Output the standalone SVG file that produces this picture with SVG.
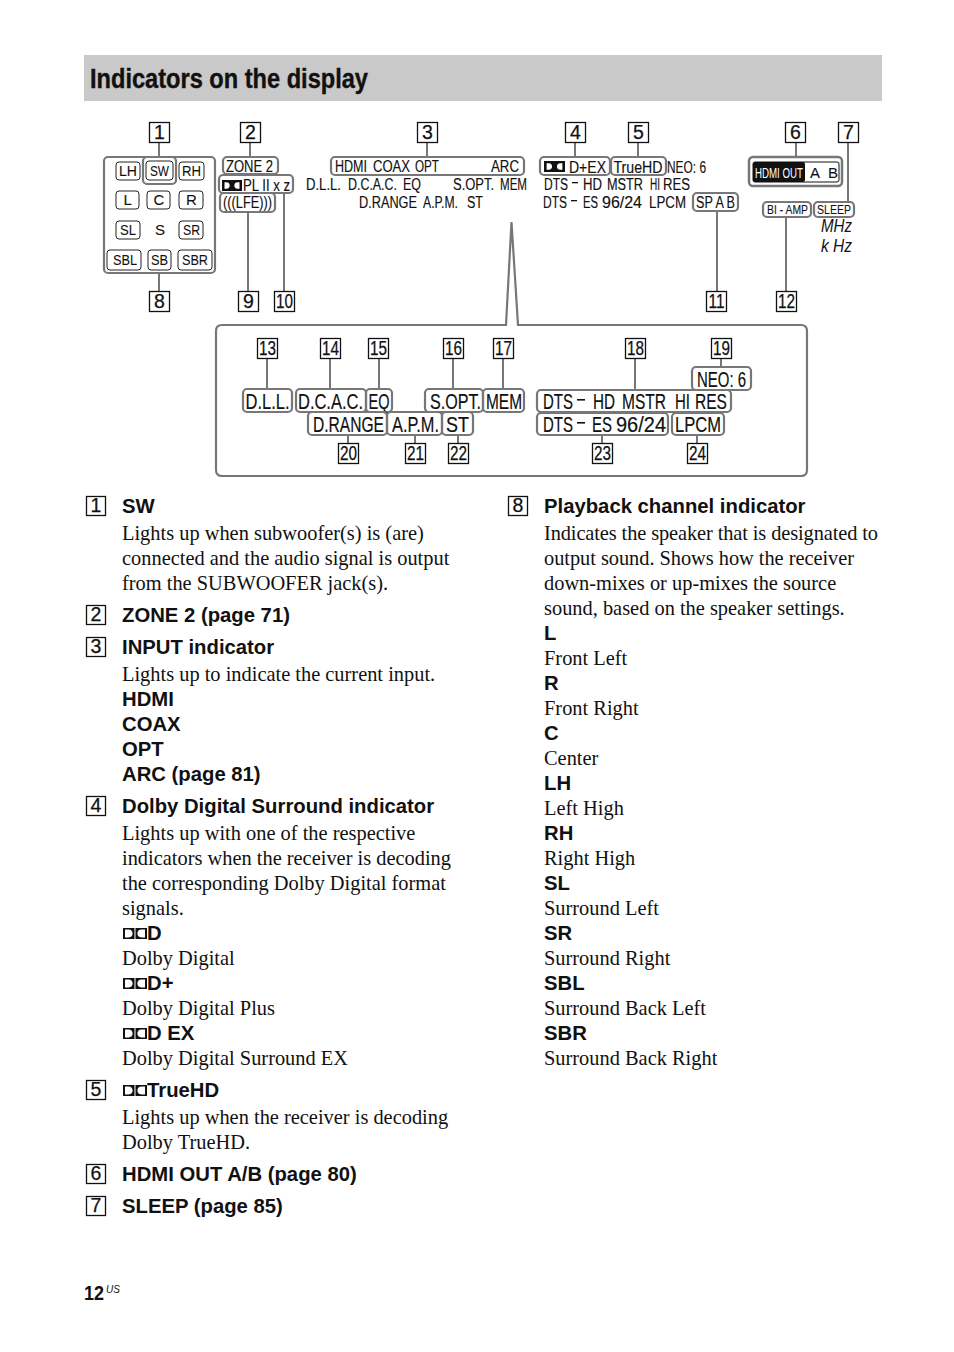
<svg xmlns="http://www.w3.org/2000/svg" xmlns:xlink="http://www.w3.org/1999/xlink" width="954" height="1352" viewBox="0 0 954 1352">
<style>
text{font-family:"Liberation Sans",Arial,sans-serif;fill:#111}
.t{font-size:28.5px;font-weight:700;stroke:#111;stroke-width:.4}
.b{font-size:20.3px;font-weight:700}
.s{font-family:"Liberation Serif","Times New Roman",serif;font-size:20.4px}
.n{font-size:19.5px;text-anchor:middle;stroke:#111;stroke-width:.25}
.d{font-size:16px;stroke:#111;stroke-width:.15}
.m{font-size:15px;stroke:#111;stroke-width:.1}
.c{font-size:13px;stroke:#111;stroke-width:.1}
.l{font-size:21.5px;stroke:#111;stroke-width:.2}
.i{font-size:18px;font-style:italic}
.box{fill:#fff;stroke:#111;stroke-width:1.3}
.g{fill:none;stroke:#777;stroke-width:2.2}
.k{fill:none;stroke:#222;stroke-width:1}
.w{fill:none;stroke:#777;stroke-width:2.2}
.cn{fill:none;stroke:#777;stroke-width:2}
</style>
<defs>
<symbol id="dd" viewBox="0 0 24 11" preserveAspectRatio="none">
<path fill="#111" fill-rule="evenodd" d="M0 0H12V11H0ZM3 2.2V8.8H5.5C8 8.8 9.2 7.4 9.2 5.5S8 2.2 5.5 2.2ZM12 0H24V11H12ZM21 2.2V8.8H18.5C16 8.8 14.8 7.4 14.8 5.5S16 2.2 18.5 2.2Z"/>
</symbol>
<symbol id="dl" viewBox="0 0 24 11" preserveAspectRatio="none">
<path fill="#111" fill-rule="evenodd" d="M0 0H11.500V11H0ZM2 1.600V9.400H5.500C8.400 9.400 9.600 7.600 9.600 5.500S8.400 1.600 5.500 1.600ZM12.500 0H24V11H12.500ZM22 1.600V9.400H18.500C15.600 9.400 14.400 7.600 14.400 5.500S15.600 1.600 18.500 1.600Z"/>
</symbol>
</defs>
<rect width="954" height="1352" fill="#fff"/>
<g id="title">
<rect x="84" y="55" width="798" height="46" fill="#c9c9c9"/>
<text class="t" x="90" y="88" textLength="278" lengthAdjust="spacingAndGlyphs">Indicators on the display</text>
</g>
<g id="connectors">
<path class="cn" d="M159 142V157M159 273V291M250 142V157M248 212V291M284 193V291M427 142V157M575 142V157M638 142V157M717 211V291M796 142V157M848 142V202M786 217V291M267 358V389M330 358V389M379 358V389M453 358V389M503 358V389M635 358V391M721 358V367M348 435V443M415 435V443M458 435V443M602 435V443M697 435V443"/>
</g>
<g id="callouts">
<g id="c1"><rect class="box" x="149.500" y="122.500" width="20" height="20"/><text class="n" x="159.500" y="139">1</text></g>
<g id="c2"><rect class="box" x="240.500" y="122.500" width="20" height="20"/><text class="n" x="250.500" y="139">2</text></g>
<g id="c3"><rect class="box" x="417.500" y="122.500" width="20" height="20"/><text class="n" x="427.500" y="139">3</text></g>
<g id="c4"><rect class="box" x="565.500" y="122.500" width="20" height="20"/><text class="n" x="575.500" y="139">4</text></g>
<g id="c5"><rect class="box" x="628.500" y="122.500" width="20" height="20"/><text class="n" x="638.500" y="139">5</text></g>
<g id="c6"><rect class="box" x="785.500" y="122.500" width="20" height="20"/><text class="n" x="795.500" y="139">6</text></g>
<g id="c7"><rect class="box" x="838.500" y="122.500" width="20" height="20"/><text class="n" x="848.500" y="139">7</text></g>
<g id="c8"><rect class="box" x="149.500" y="291.500" width="20" height="20"/><text class="n" x="159.500" y="308">8</text></g>
<g id="c9"><rect class="box" x="238.500" y="291.500" width="20" height="20"/><text class="n" x="248.500" y="308">9</text></g>
<g id="c10"><rect class="box" x="274.500" y="291.500" width="20" height="20"/><text class="n" x="284.500" y="308" textLength="17" lengthAdjust="spacingAndGlyphs">10</text></g>
<g id="c11"><rect class="box" x="706.500" y="291.500" width="20" height="20"/><text class="n" x="716.500" y="308" textLength="16" lengthAdjust="spacingAndGlyphs">11</text></g>
<g id="c12"><rect class="box" x="776.500" y="291.500" width="20" height="20"/><text class="n" x="786.500" y="308" textLength="17" lengthAdjust="spacingAndGlyphs">12</text></g>
<g id="c13"><rect class="box" x="257.500" y="338.500" width="20" height="20"/><text class="n" x="267.500" y="355" textLength="17" lengthAdjust="spacingAndGlyphs">13</text></g>
<g id="c14"><rect class="box" x="320.500" y="338.500" width="20" height="20"/><text class="n" x="330.500" y="355" textLength="17" lengthAdjust="spacingAndGlyphs">14</text></g>
<g id="c15"><rect class="box" x="368.500" y="338.500" width="20" height="20"/><text class="n" x="378.500" y="355" textLength="17" lengthAdjust="spacingAndGlyphs">15</text></g>
<g id="c16"><rect class="box" x="443.500" y="338.500" width="20" height="20"/><text class="n" x="453.500" y="355" textLength="17" lengthAdjust="spacingAndGlyphs">16</text></g>
<g id="c17"><rect class="box" x="493.500" y="338.500" width="20" height="20"/><text class="n" x="503.500" y="355" textLength="17" lengthAdjust="spacingAndGlyphs">17</text></g>
<g id="c18"><rect class="box" x="625.500" y="338.500" width="20" height="20"/><text class="n" x="635.500" y="355" textLength="17" lengthAdjust="spacingAndGlyphs">18</text></g>
<g id="c19"><rect class="box" x="711.500" y="338.500" width="20" height="20"/><text class="n" x="721.500" y="355" textLength="17" lengthAdjust="spacingAndGlyphs">19</text></g>
<g id="c20"><rect class="box" x="338.500" y="443.500" width="20" height="20"/><text class="n" x="348.500" y="460" textLength="17" lengthAdjust="spacingAndGlyphs">20</text></g>
<g id="c21"><rect class="box" x="405.500" y="443.500" width="20" height="20"/><text class="n" x="415.500" y="460" textLength="17" lengthAdjust="spacingAndGlyphs">21</text></g>
<g id="c22"><rect class="box" x="448.500" y="443.500" width="20" height="20"/><text class="n" x="458.500" y="460" textLength="17" lengthAdjust="spacingAndGlyphs">22</text></g>
<g id="c23"><rect class="box" x="592.500" y="443.500" width="20" height="20"/><text class="n" x="602.500" y="460" textLength="17" lengthAdjust="spacingAndGlyphs">23</text></g>
<g id="c24"><rect class="box" x="687.500" y="443.500" width="20" height="20"/><text class="n" x="697.500" y="460" textLength="17" lengthAdjust="spacingAndGlyphs">24</text></g>
</g>
<g id="channel-panel">
<rect class="g" x="104" y="157" width="111" height="116" rx="4"/>
<rect class="g" x="143" y="157" width="33" height="27" rx="4"/>
<rect class="k" x="116" y="162" width="24" height="18" rx="3"/><text class="m" x="119" y="176" textLength="18" lengthAdjust="spacingAndGlyphs">LH</text>
<rect class="k" x="146" y="161" width="27" height="19" rx="3"/><text class="m" x="150" y="176" textLength="19" lengthAdjust="spacingAndGlyphs">SW</text>
<rect class="k" x="179" y="162" width="25" height="18" rx="3"/><text class="m" x="182" y="176" textLength="19" lengthAdjust="spacingAndGlyphs">RH</text>
<rect class="k" x="116" y="191" width="23" height="18" rx="3"/><text class="m" x="123.500" y="205">L</text>
<rect class="k" x="147" y="191" width="23" height="18" rx="3"/><text class="m" x="153.500" y="205">C</text>
<rect class="k" x="179" y="191" width="24" height="18" rx="3"/><text class="m" x="186" y="205">R</text>
<rect class="k" x="116" y="221" width="24" height="18" rx="3"/><text class="m" x="120" y="235" textLength="16" lengthAdjust="spacingAndGlyphs">SL</text>
<text class="m" x="155" y="235">S</text>
<rect class="k" x="179" y="221" width="24" height="18" rx="3"/><text class="m" x="183" y="235" textLength="17" lengthAdjust="spacingAndGlyphs">SR</text>
<rect class="k" x="107" y="250" width="34" height="20" rx="3"/><text class="m" x="113" y="265" textLength="24" lengthAdjust="spacingAndGlyphs">SBL</text>
<rect class="k" x="148" y="250" width="23" height="20" rx="3"/><text class="m" x="151" y="265" textLength="17" lengthAdjust="spacingAndGlyphs">SB</text>
<rect class="k" x="178" y="250" width="34" height="20" rx="3"/><text class="m" x="182" y="265" textLength="26" lengthAdjust="spacingAndGlyphs">SBR</text>
</g>
<g id="zone-group">
<rect class="w" x="223" y="157" width="55" height="17" rx="4"/>
<text class="d" x="226" y="172" textLength="47" lengthAdjust="spacingAndGlyphs">ZONE 2</text>
<rect class="w" x="219" y="175" width="74" height="18" rx="4"/>
<use xlink:href="#dd" x="222" y="180" width="20" height="11"/>
<text class="d" x="243" y="191" textLength="47" lengthAdjust="spacingAndGlyphs">PL II x z</text>
<rect class="w" x="220" y="193" width="55" height="19" rx="4"/>
<text class="d" x="223" y="208" textLength="49" lengthAdjust="spacingAndGlyphs">(((LFE)))</text>
</g>
<g id="input-group">
<rect class="w" x="331" y="157" width="193" height="18" rx="4"/>
<text class="d" x="335" y="172" textLength="32" lengthAdjust="spacingAndGlyphs">HDMI</text>
<text class="d" x="373" y="172" textLength="37" lengthAdjust="spacingAndGlyphs">COAX</text>
<text class="d" x="415" y="172" textLength="24" lengthAdjust="spacingAndGlyphs">OPT</text>
<text class="d" x="491" y="172" textLength="28" lengthAdjust="spacingAndGlyphs">ARC</text>
<text class="d" x="306" y="190" textLength="35" lengthAdjust="spacingAndGlyphs">D.L.L.</text>
<text class="d" x="348" y="190" textLength="49" lengthAdjust="spacingAndGlyphs">D.C.A.C.</text>
<text class="d" x="403" y="190" textLength="18" lengthAdjust="spacingAndGlyphs">EQ</text>
<text class="d" x="453" y="190" textLength="41" lengthAdjust="spacingAndGlyphs">S.OPT.</text>
<text class="d" x="500" y="190" textLength="27" lengthAdjust="spacingAndGlyphs">MEM</text>
<text class="d" x="359" y="208" textLength="58" lengthAdjust="spacingAndGlyphs">D.RANGE</text>
<text class="d" x="423" y="208" textLength="35" lengthAdjust="spacingAndGlyphs">A.P.M.</text>
<text class="d" x="467" y="208" textLength="16" lengthAdjust="spacingAndGlyphs">ST</text>
</g>
<g id="format-group">
<rect class="w" x="540" y="157" width="70" height="18" rx="4"/>
<use xlink:href="#dd" x="544" y="161" width="21" height="11"/>
<text class="d" x="569" y="173" textLength="37" lengthAdjust="spacingAndGlyphs">D+EX</text>
<rect class="w" x="611" y="157" width="55" height="18" rx="4"/>
<text class="d" x="613.500" y="173" textLength="49" lengthAdjust="spacingAndGlyphs">TrueHD</text>
<text class="d" x="667" y="173" textLength="39" lengthAdjust="spacingAndGlyphs">NEO: 6</text>
<text class="d" x="544" y="190" textLength="24" lengthAdjust="spacingAndGlyphs">DTS</text>
<rect x="572" y="182" width="6" height="1.300" fill="#111"/>
<text class="d" x="583" y="190" textLength="19" lengthAdjust="spacingAndGlyphs">HD</text>
<text class="d" x="607" y="190" textLength="36" lengthAdjust="spacingAndGlyphs">MSTR</text>
<text class="d" x="650" y="190" textLength="10" lengthAdjust="spacingAndGlyphs">HI</text>
<text class="d" x="663" y="190" textLength="27" lengthAdjust="spacingAndGlyphs">RES</text>
<text class="d" x="543" y="208" textLength="24" lengthAdjust="spacingAndGlyphs">DTS</text>
<rect x="571" y="200" width="6" height="1.300" fill="#111"/>
<text class="d" x="583" y="208" textLength="15" lengthAdjust="spacingAndGlyphs">ES</text>
<text class="d" x="602" y="208" textLength="40" lengthAdjust="spacingAndGlyphs">96/24</text>
<text class="d" x="649" y="208" textLength="37" lengthAdjust="spacingAndGlyphs">LPCM</text>
<rect class="w" x="693" y="193" width="45" height="18" rx="4"/>
<text class="d" x="696" y="208" textLength="39" lengthAdjust="spacingAndGlyphs">SP A B</text>
</g>
<g id="hdmi-group">
<rect class="g" x="749" y="157" width="93" height="29" rx="4" style="stroke-width:2.500"/>
<rect x="753" y="162" width="86" height="20" rx="2" fill="#fff" stroke="#111"/>
<rect x="753" y="162" width="52" height="20" rx="2" fill="#111"/>
<text class="m" x="755" y="178" style="fill:#fff;stroke:none" textLength="48" lengthAdjust="spacingAndGlyphs">HDMI OUT</text>
<text class="m" x="810" y="178">A</text>
<text class="m" x="828" y="178">B</text>
</g>
<g id="sleep-group">
<rect class="w" x="763" y="202" width="48" height="15" rx="4"/>
<text class="c" x="767" y="214" textLength="41" lengthAdjust="spacingAndGlyphs">BI - AMP</text>
<rect class="w" x="814" y="202" width="40" height="15" rx="4"/>
<text class="c" x="817" y="214" textLength="34" lengthAdjust="spacingAndGlyphs">SLEEP</text>
<text class="i" x="821" y="232" textLength="31" lengthAdjust="spacingAndGlyphs">MHz</text>
<text class="i" x="821" y="252" textLength="31" lengthAdjust="spacingAndGlyphs">k Hz</text>
</g>
<g id="zoom-panel">
<path class="w" d="M506 325L511.500 222L518 325H801Q807 325 807 331V470Q807 476 801 476H222Q216 476 216 470V331Q216 325 222 325Z"/>
<rect class="w" x="243" y="389" width="49" height="23" rx="4"/><text class="l" x="245.500" y="409" textLength="44" lengthAdjust="spacingAndGlyphs">D.L.L.</text>
<rect class="w" x="296" y="389" width="70" height="23" rx="4"/><text class="l" x="298" y="409" textLength="65" lengthAdjust="spacingAndGlyphs">D.C.A.C.</text>
<rect class="w" x="366" y="389" width="26" height="23" rx="4"/><text class="l" x="368.500" y="409" textLength="21" lengthAdjust="spacingAndGlyphs">EQ</text>
<rect class="w" x="425" y="389" width="58" height="23" rx="4"/><text class="l" x="430" y="409" textLength="51" lengthAdjust="spacingAndGlyphs">S.OPT.</text>
<rect class="w" x="483" y="389" width="41" height="23" rx="4"/><text class="l" x="486" y="409" textLength="36" lengthAdjust="spacingAndGlyphs">MEM</text>
<rect class="w" x="308" y="412" width="79" height="23" rx="4"/><text class="l" x="313" y="432" textLength="71" lengthAdjust="spacingAndGlyphs">D.RANGE</text>
<rect class="w" x="387" y="412" width="55" height="23" rx="4"/><text class="l" x="392" y="432" textLength="47" lengthAdjust="spacingAndGlyphs">A.P.M.</text>
<rect class="w" x="442" y="412" width="31" height="23" rx="4"/><text class="l" x="446" y="432" textLength="23" lengthAdjust="spacingAndGlyphs">ST</text>
<rect class="w" x="692" y="367" width="59" height="23" rx="4"/><text class="l" x="697" y="387" textLength="49" lengthAdjust="spacingAndGlyphs">NEO: 6</text>
<rect class="w" x="537" y="390" width="194" height="22" rx="4"/>
<text class="l" x="543" y="409" textLength="30" lengthAdjust="spacingAndGlyphs">DTS</text>
<rect x="577" y="399" width="8" height="1.600" fill="#111"/>
<text class="l" x="593" y="409" textLength="22" lengthAdjust="spacingAndGlyphs">HD</text>
<text class="l" x="622" y="409" textLength="44" lengthAdjust="spacingAndGlyphs">MSTR</text>
<text class="l" x="675" y="409" textLength="15" lengthAdjust="spacingAndGlyphs">HI</text>
<text class="l" x="695" y="409" textLength="32" lengthAdjust="spacingAndGlyphs">RES</text>
<rect class="w" x="537" y="413" width="131" height="22" rx="4"/>
<text class="l" x="543" y="432" textLength="30" lengthAdjust="spacingAndGlyphs">DTS</text>
<rect x="577" y="422" width="8" height="1.600" fill="#111"/>
<text class="l" x="592" y="432" textLength="20" lengthAdjust="spacingAndGlyphs">ES</text>
<text class="l" x="616" y="432" textLength="50" lengthAdjust="spacingAndGlyphs">96/24</text>
<rect class="w" x="672" y="413" width="52" height="22" rx="4"/><text class="l" x="675" y="432" textLength="46" lengthAdjust="spacingAndGlyphs">LPCM</text>
</g>
<g id="left-column">
<rect class="box" x="86.500" y="496.500" width="19" height="19"/><text class="n" x="96" y="512">1</text>
<text class="b" x="122" y="513">SW</text>
<text class="s" x="122" y="540">Lights up when subwoofer(s) is (are)</text>
<text class="s" x="122" y="565">connected and the audio signal is output</text>
<text class="s" x="122" y="590">from the SUBWOOFER jack(s).</text>
<rect class="box" x="86.500" y="605.500" width="19" height="19"/><text class="n" x="96" y="621">2</text>
<text class="b" x="122" y="622">ZONE 2 (page 71)</text>
<rect class="box" x="86.500" y="637.500" width="19" height="19"/><text class="n" x="96" y="653">3</text>
<text class="b" x="122" y="654">INPUT indicator</text>
<text class="s" x="122" y="681">Lights up to indicate the current input.</text>
<text class="b" x="122" y="706">HDMI</text>
<text class="b" x="122" y="731">COAX</text>
<text class="b" x="122" y="756">OPT</text>
<text class="b" x="122" y="781">ARC (page 81)</text>
<rect class="box" x="86.500" y="796.500" width="19" height="19"/><text class="n" x="96" y="812">4</text>
<text class="b" x="122" y="813">Dolby Digital Surround indicator</text>
<text class="s" x="122" y="840">Lights up with one of the respective</text>
<text class="s" x="122" y="865">indicators when the receiver is decoding</text>
<text class="s" x="122" y="890">the corresponding Dolby Digital format</text>
<text class="s" x="122" y="915">signals.</text>
<use xlink:href="#dl" x="123" y="928" width="24" height="11"/><text class="b" x="147" y="940">D</text>
<text class="s" x="122" y="965">Dolby Digital</text>
<use xlink:href="#dl" x="123" y="978" width="24" height="11"/><text class="b" x="147" y="990">D+</text>
<text class="s" x="122" y="1015">Dolby Digital Plus</text>
<use xlink:href="#dl" x="123" y="1028" width="24" height="11"/><text class="b" x="147" y="1040">D EX</text>
<text class="s" x="122" y="1065">Dolby Digital Surround EX</text>
<rect class="box" x="86.500" y="1080.500" width="19" height="19"/><text class="n" x="96" y="1096">5</text>
<use xlink:href="#dl" x="123" y="1085" width="24" height="11"/><text class="b" x="147" y="1097">TrueHD</text>
<text class="s" x="122" y="1124">Lights up when the receiver is decoding</text>
<text class="s" x="122" y="1149">Dolby TrueHD.</text>
<rect class="box" x="86.500" y="1164.500" width="19" height="19"/><text class="n" x="96" y="1180">6</text>
<text class="b" x="122" y="1181">HDMI OUT A/B (page 80)</text>
<rect class="box" x="86.500" y="1196.500" width="19" height="19"/><text class="n" x="96" y="1212">7</text>
<text class="b" x="122" y="1213">SLEEP (page 85)</text>
</g>
<g id="right-column">
<rect class="box" x="508.500" y="496.500" width="19" height="19"/><text class="n" x="518" y="512">8</text>
<text class="b" x="544" y="513">Playback channel indicator</text>
<text class="s" x="544" y="540" textLength="334">Indicates the speaker that is designated to</text>
<text class="s" x="544" y="565" textLength="310">output sound. Shows how the receiver</text>
<text class="s" x="544" y="590">down-mixes or up-mixes the source</text>
<text class="s" x="544" y="615">sound, based on the speaker settings.</text>
<text class="b" x="544" y="640">L</text>
<text class="s" x="544" y="665">Front Left</text>
<text class="b" x="544" y="690">R</text>
<text class="s" x="544" y="715">Front Right</text>
<text class="b" x="544" y="740">C</text>
<text class="s" x="544" y="765">Center</text>
<text class="b" x="544" y="790">LH</text>
<text class="s" x="544" y="815">Left High</text>
<text class="b" x="544" y="840">RH</text>
<text class="s" x="544" y="865">Right High</text>
<text class="b" x="544" y="890">SL</text>
<text class="s" x="544" y="915">Surround Left</text>
<text class="b" x="544" y="940">SR</text>
<text class="s" x="544" y="965">Surround Right</text>
<text class="b" x="544" y="990">SBL</text>
<text class="s" x="544" y="1015">Surround Back Left</text>
<text class="b" x="544" y="1040">SBR</text>
<text class="s" x="544" y="1065">Surround Back Right</text>
</g>
<g id="footer">
<text x="84" y="1300" style="font-size:20px;font-weight:700" textLength="20" lengthAdjust="spacingAndGlyphs">12</text>
<text x="106" y="1293" style="font-size:10px;font-style:italic">US</text>
</g>
</svg>
